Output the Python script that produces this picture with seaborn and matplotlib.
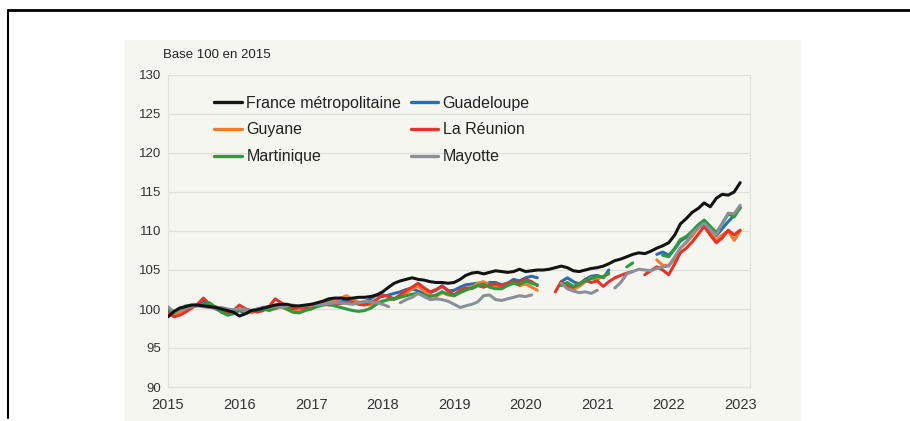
import numpy as np
import pandas as pd
import matplotlib
matplotlib.use("Agg")
import matplotlib.pyplot as plt
import matplotlib.dates as mdates
from matplotlib.lines import Line2D
from matplotlib.patches import Rectangle
import seaborn as sns

nan = np.nan

# monthly index, base 100 en 2015 (Jan 2015 -> Jan 2023)
france = [99.0, 99.7, 100.1, 100.3, 100.5, 100.5, 100.4, 100.3, 100.2, 100.0, 99.8, 99.6,
          99.1, 99.4, 99.8, 99.9, 100.1, 100.3, 100.5, 100.6, 100.6, 100.4, 100.4, 100.5,
          100.6, 100.8, 101.0, 101.3, 101.4, 101.4, 101.3, 101.4, 101.5, 101.5, 101.6, 101.8,
          102.2, 102.8, 103.3, 103.6, 103.8, 104.0, 103.8, 103.7, 103.5, 103.4, 103.4, 103.3,
          103.4, 103.8, 104.3, 104.6, 104.7, 104.5, 104.7, 104.9, 104.8, 104.7, 104.8, 105.1,
          104.8, 104.9, 105.0, 105.0, 105.1, 105.3, 105.5, 105.3, 104.9, 104.8, 105.0, 105.2,
          105.3, 105.5, 105.8, 106.2, 106.4, 106.7, 107.0, 107.2, 107.1, 107.4, 107.8, 108.1,
          108.5, 109.5, 110.9, 111.6, 112.4, 112.9, 113.6, 113.1, 114.2, 114.7, 114.6, 115.0,
          116.2]

guadeloupe = [99.8, 99.6, 100.1, 100.3, 100.4, 100.6, 101.0, 100.5, 100.0, 99.7, 99.6, 99.8,
              99.8, 99.4, 99.7, 100.0, 100.2, 100.3, 100.5, 100.6, 100.3, 100.1, 100.2, 100.3,
              100.4, 100.6, 100.8, 101.0, 101.0, 100.9, 101.1, 101.0, 100.8, 100.9, 101.3, 101.8,
              101.6, 101.8, 102.0, 102.2, 102.5, 102.6, 102.3, 102.0, 102.1, 102.4, 103.0, 102.3,
              102.4, 102.8, 103.1, 103.2, 103.3, 103.0, 103.4, 103.4, 103.1, 103.3, 103.8, 103.6,
              104.0, 104.2, 104.0, nan, nan, nan, 103.5, 104.0, 103.5, 103.2, 103.8, 104.2,
              104.3, 104.0, 105.0, nan, nan, nan, nan, nan, nan, nan, 107.0, 107.3,
              106.9, 107.7, 108.7, 109.2, 109.6, 110.5, 111.3, 110.5, 109.4, 110.3, 111.2, 112.0,
              113.0]

guyane = [100.2, 99.3, 99.6, 100.0, 100.3, 100.5, 100.4, 100.2, 100.3, 100.1, 99.8, 99.7,
          99.9, 99.7, 99.5, 99.8, 100.0, 100.1, 100.0, 100.3, 99.9, 99.6, 99.8, 100.0,
          100.3, 100.6, 100.5, 100.8, 101.0, 101.4, 101.7, 101.2, 100.9, 100.6, 100.5, 100.8,
          101.0, 101.3, 101.2, 101.6, 102.0, 102.6, 102.9, 102.3, 101.8, 101.6, 102.1, 101.8,
          101.7, 102.2, 102.6, 102.8, 103.3, 103.5, 103.1, 103.0, 102.8, 103.1, 103.4, 103.0,
          103.2, 102.8, 102.4, nan, nan, nan, 103.3, 102.8, 102.5, 102.9, 103.5, 104.0,
          103.8, 104.2, 104.5, nan, nan, nan, nan, nan, nan, nan, 106.3, 105.6,
          105.6, 106.4, 107.8, 108.5, 109.4, 110.4, 111.0, 110.0, 108.8, 109.5, 110.0, 108.8,
          110.0]

reunion = [99.5, 99.0, 99.2, 99.6, 100.1, 100.6, 101.4, 100.6, 100.2, 99.6, 99.4, 99.8,
           100.5, 100.0, 99.8, 99.6, 99.8, 100.3, 101.3, 100.8, 100.3, 100.0, 100.2, 100.1,
           100.0, 100.4, 100.8, 100.5, 100.6, 100.7, 100.9, 100.8, 100.6, 100.5, 100.8, 101.2,
           101.8, 101.6, 101.3, 101.8, 102.4, 102.8, 103.3, 102.7, 102.2, 102.5, 102.9, 102.4,
           101.8, 102.4, 102.7, 102.6, 103.0, 102.8, 103.1, 103.2, 103.0, 103.3, 103.5, 103.4,
           103.8, 103.5, 103.0, nan, nan, 102.2, 103.5, 103.0, 102.8, 103.2, 103.7, 103.4,
           103.6, 102.9, 103.5, 104.0, 104.3, 104.6, 104.8, nan, 104.4, 104.9, 105.4, 105.0,
           104.4, 105.8, 107.2, 107.8, 108.6, 109.6, 110.6, 109.5, 108.5, 109.1, 110.1, 109.5,
           110.1]

martinique = [100.0, 99.5, 100.0, 100.4, 100.5, 100.4, 100.6, 100.8, 100.2, 99.6, 99.2, 99.4,
              99.8, 100.0, 99.7, 99.9, 100.0, 99.8, 100.1, 100.3, 100.0, 99.6, 99.5, 99.8,
              100.0, 100.3, 100.5, 100.6, 100.4, 100.2, 100.0, 99.8, 99.7, 99.8, 100.1, 100.6,
              101.0, 101.2, 101.3, 101.5, 101.7, 101.9, 102.0, 101.8, 101.6, 101.8, 102.2, 101.9,
              101.7, 102.1, 102.4, 102.7, 103.0, 103.2, 102.8, 102.6, 102.6, 103.0, 103.3, 103.1,
              103.6, 103.3, 103.1, nan, nan, nan, 103.0, 103.4, 102.9, 103.2, 103.6, 103.9,
              104.2, 104.1, 104.6, nan, nan, 105.4, 105.9, nan, nan, nan, nan, 106.9,
              106.7, 107.8, 108.9, 109.3, 110.0, 110.8, 111.4, 110.6, 109.8, 110.9, 112.2, 111.8,
              113.0]

mayotte = [100.3, 99.6, 99.9, 100.1, 100.3, 100.4, 100.3, 100.2, 100.1, 100.2, 100.0, 99.9,
           100.0, 99.9, 99.8, 100.0, 100.1, 100.2, 100.3, 100.2, 100.4, 100.5, 100.3, 100.4,
           100.6, 100.5, 100.6, 100.7, 100.8, 100.8, 100.7, 100.6, 100.8, 101.0, 100.9, 100.8,
           100.6, 100.3, nan, 100.8, 101.2, 101.5, 102.0, 101.6, 101.2, 101.3, 101.2, 101.0,
           100.6, 100.2, 100.4, 100.6, 100.9, 101.7, 101.8, 101.2, 101.1, 101.3, 101.5, 101.7,
           101.6, 101.8, nan, nan, nan, nan, 103.3, 102.6, 102.3, 102.1, 102.2, 102.0,
           102.4, nan, nan, 102.7, 103.4, 104.5, 104.8, 105.1, 105.0, 104.9, 105.2, 105.4,
           105.5, 106.7, 107.8, 108.6, 109.7, 110.4, 111.0, 110.2, 109.5, 111.0, 112.3, 112.2,
           113.3]

series = {
    "France métropolitaine": france,
    "Guadeloupe": guadeloupe,
    "Guyane": guyane,
    "La Réunion": reunion,
    "Martinique": martinique,
    "Mayotte": mayotte,
}
colors = {
    "France métropolitaine": "#141414",
    "Guadeloupe": "#2a6db0",
    "Guyane": "#f07c2c",
    "La Réunion": "#e5322b",
    "Martinique": "#2b9a40",
    "Mayotte": "#8b9098",
}
years = list(range(2015, 2024))

dates = pd.date_range("2015-01-01", "2023-01-01", freq="MS")

# long table, each unbroken stretch gets its own unit so gaps stay open
rows = []
for name, vals in series.items():
    seg = 0
    prev_nan = True
    for d, v in zip(dates, vals):
        if np.isnan(v):
            prev_nan = True
            continue
        if prev_nan:
            seg += 1
            prev_nan = False
        rows.append({"date": d, "val": v, "serie": name, "seg": f"{name}_{seg}"})
df = pd.DataFrame(rows)

sns.set_style("white")
plt.rcParams["font.family"] = ["Liberation Sans", "DejaVu Sans"]

paper = "#f6f6f1"
fig = plt.figure(figsize=(9.1, 4.21), dpi=100)
fig.patch.set_facecolor("white")
fig.add_artist(Rectangle((125 / 910, 0), 675 / 910, 1 - 40 / 421,
                         transform=fig.transFigure, color=paper, zorder=0))

ax = fig.add_axes([168 / 910, 1 - 387 / 421, 582 / 910, 312 / 421])
ax.set_facecolor(paper)

draw_order = ["Guadeloupe", "Guyane", "La Réunion", "Martinique", "Mayotte", "France métropolitaine"]
for z, name in enumerate(draw_order):
    sub = df[df["serie"] == name]
    sns.lineplot(data=sub, x="date", y="val", units="seg", estimator=None,
                 color=colors[name], lw=2.2, ax=ax, legend=False, zorder=3 + z)

ax.set_ylim(90, 130)
ax.set_yticks(range(90, 131, 5))
ax.set_xlim(pd.Timestamp("2015-01-01"), pd.Timestamp("2023-02-20"))
ax.set_xticks([pd.Timestamp(f"{y}-01-01") for y in years])
ax.set_xticklabels([str(y) for y in years])
ax.xaxis.set_minor_locator(mdates.MonthLocator())
ax.set_xlabel("")
ax.set_ylabel("")
ax.grid(axis="y", color="#dedfd9", lw=0.9)
ax.tick_params(axis="x", which="major", length=0, pad=8, labelsize=10.5, labelcolor="#333333")
ax.tick_params(axis="x", which="minor", length=3, direction="in", color="#d4d4cf", width=0.8)
ax.tick_params(axis="y", length=0, pad=5, labelsize=9.5, labelcolor="#333333")
ax.spines["top"].set_visible(False)
for s in ["left", "right", "bottom"]:
    ax.spines[s].set_color("#e2e2dd")
    ax.spines[s].set_linewidth(0.9)

order = ["France métropolitaine", "Guyane", "Martinique", "Guadeloupe", "La Réunion", "Mayotte"]
handles = [Line2D([], [], color=colors[n], lw=2.4) for n in order]
ax.legend(handles, order, ncol=2, loc="upper left", bbox_to_anchor=(0.055, 0.98),
          frameon=False, fontsize=11.5, handlelength=1.7, handletextpad=0.3,
          columnspacing=0.6, labelspacing=0.74, labelcolor="#222222")

fig.text(163 / 910, 1 - 55 / 421, "Base 100 en 2015", fontsize=9.5, color="#222222",
         va="center", ha="left")

# frame of the page
y_top = 1 - 10 / 421
fig.add_artist(Line2D([8 / 910, 1], [y_top, y_top], transform=fig.transFigure, color="black", lw=2))
fig.add_artist(Line2D([8 / 910, 8 / 910], [y_top, 1 - 418 / 421], transform=fig.transFigure,
                      color="black", lw=1.5))

fig.savefig("out.png", dpi=100)
